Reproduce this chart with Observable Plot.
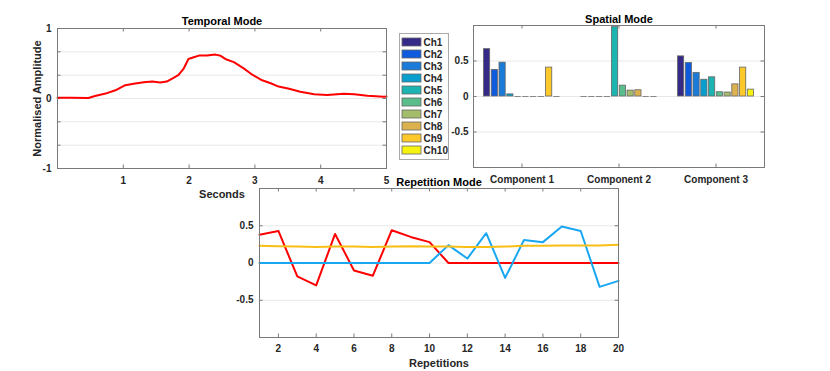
<!DOCTYPE html>
<html><head><meta charset="utf-8">
<script src="https://cdn.jsdelivr.net/npm/d3@7"></script>
<script src="https://cdn.jsdelivr.net/npm/@observablehq/plot@0.6"></script>
<style>
body{margin:0;background:#fff;}
#wrap{position:relative;width:830px;height:371px;overflow:hidden;background:#fff;}
#wrap > svg{position:absolute;margin:0;overflow:visible;}
</style></head><body><div id="wrap"></div>
<script>
// ---- Temporal mode ----
const temporalT = [0, 0.2, 0.47, 0.57, 0.73, 0.88, 1.03, 1.18, 1.31, 1.44, 1.56, 1.66, 1.77, 1.84, 1.92, 1.99, 2.07, 2.15, 2.27, 2.40, 2.48, 2.55, 2.68, 2.83, 2.96, 3.11, 3.24, 3.36, 3.52, 3.69, 3.90, 4.10, 4.35, 4.51, 4.71, 4.96, 5.0];
const temporalV = [0.011, 0.009, 0.007, 0.036, 0.07, 0.117, 0.19, 0.214, 0.233, 0.242, 0.228, 0.242, 0.299, 0.337, 0.432, 0.565, 0.589, 0.613, 0.613, 0.627, 0.61, 0.565, 0.52, 0.43, 0.34, 0.26, 0.218, 0.17, 0.14, 0.097, 0.06, 0.05, 0.068, 0.06, 0.04, 0.026, 0.03];
const temporalXTicks = [1, 2, 3, 4, 5];
const temporalYLabels = [-1, 0, 1];
const temporalYGrid = [-0.667, -0.333, 0, 0.333, 0.667];

// ---- Spatial mode ----
const channels = ["Ch1","Ch2","Ch3","Ch4","Ch5","Ch6","Ch7","Ch8","Ch9","Ch10"];
const channelColors = ["#352a87","#0f5bdd","#1a7bd8","#089fcf","#1cb4b0","#5bbd8c","#a4bd6a","#dcb24f","#fdc82a","#f5f30f"];
const components = ["Component 1","Component 2","Component 3"];
const spatialComp1 = [0.667, 0.375, 0.477, 0.03, 0, 0, 0, 0, 0.407, 0];
const spatialComp2 = [0, 0, 0, 0, 0.977, 0.153, 0.083, 0.088, 0, 0];
const spatialComp3 = [0.565, 0.472, 0.333, 0.236, 0.27, 0.06, 0.056, 0.171, 0.407, 0.097];
const spatialYTicks = [-0.5, 0, 0.5];

// ---- Repetition mode ----
const repetitions = [1,2,3,4,5,6,7,8,9,10,11,12,13,14,15,16,17,18,19,20];
const repSeries = ["comp1", "comp2", "comp3"];
const repColors = ["#ff0000", "#19a7f2", "#f7bf16"];
const repRed = [0.38, 0.43, -0.18, -0.30, 0.39, -0.10, -0.17, 0.44, 0.35, 0.28, 0, 0, 0, 0, 0, 0, 0, 0, 0, 0];
const repBlue = [0, 0, 0, 0, 0, 0, 0, 0, 0, 0, 0.24, 0.06, 0.40, -0.20, 0.31, 0.28, 0.49, 0.43, -0.32, -0.24];
const repYellow = [0.23, 0.225, 0.22, 0.215, 0.22, 0.22, 0.215, 0.22, 0.225, 0.22, 0.22, 0.215, 0.215, 0.22, 0.23, 0.23, 0.235, 0.235, 0.235, 0.245];
const repXTicks = [2,4,6,8,10,12,14,16,18,20];
const repYTicks = [-0.5, 0, 0.5];

const FONT = '"Liberation Sans", Arial, Helvetica, sans-serif';
const AXIS = "#7a7a7a";
const GRID = "#e8e8e8";
const TXT = "#262626";
const TL = 3.5;
const fmt = d => String(d);
const baseStyle = {fontFamily: FONT, fontSize: "10px", fontWeight: "bold", color: TXT, background: "transparent", overflow: "visible"};

function inwardTicks(xt, yt, xd, yd) {
  return [
    Plot.ruleX(xt, {x: d => d, y1: () => yd[0], y2: () => yd[0], insetBottom: TL, stroke: AXIS}),
    Plot.ruleX(xt, {x: d => d, y1: () => yd[1], y2: () => yd[1], insetTop: TL, stroke: AXIS}),
    Plot.ruleY(yt, {y: d => d, x1: () => xd[0], x2: () => xd[0], insetLeft: TL, stroke: AXIS}),
    Plot.ruleY(yt, {y: d => d, x1: () => xd[1], x2: () => xd[1], insetRight: TL, stroke: AXIS})
  ];
}
function place(svg, left, top) {
  svg.style.left = left + "px";
  svg.style.top = top + "px";
  document.getElementById("wrap").appendChild(svg);
}

// Temporal
const tData = temporalT.map((t, i) => ({t, v: temporalV[i]}));
const p1 = Plot.plot({
  width: 400, height: 210,
  marginLeft: 57, marginRight: 14, marginTop: 28, marginBottom: 42,
  style: baseStyle,
  x: {domain: [0, 5]},
  y: {domain: [-1, 1]},
  marks: [
    Plot.ruleY(temporalYGrid, {y: d => d, stroke: GRID}),
    Plot.axisX(temporalXTicks, {tickSize: 0, tickPadding: 8, label: null, tickFormat: fmt, fill: TXT}),
    Plot.axisY(temporalYLabels, {tickSize: 0, tickPadding: 6, label: null, tickFormat: fmt, fill: TXT}),
    ...inwardTicks(temporalXTicks, temporalYGrid.concat([-1, 1]), [0, 5], [-1, 1]),
    Plot.line(tData, {x: "t", y: "v", stroke: "#ff0000", strokeWidth: 2}),
    Plot.frame({stroke: AXIS}),
    Plot.text(["Temporal Mode"], {text: d => d, frameAnchor: "top", dy: -11, fontSize: 11, fontWeight: "bold", fill: "#000"}),
    Plot.text(["Seconds"], {text: d => d, frameAnchor: "bottom", dy: 29, fontSize: 11, fontWeight: "bold", fill: TXT}),
    Plot.text(["Normalised Amplitude"], {text: d => d, frameAnchor: "left", textAnchor: "middle", dx: -20, rotate: -90, fontSize: 11, fontWeight: "bold", fill: TXT})
  ]
});
place(p1, 0, 0);

// Spatial
const spatialSeries = [spatialComp1, spatialComp2, spatialComp3];
const spatialData = [];
spatialSeries.forEach((vals, ci) => vals.forEach((v, j) => spatialData.push({comp: ci + 1, j, ch: channels[j], value: v, color: channelColors[j]})));
const GROUP_STEP = 0.08, BAR_HALF = 0.032;
const bx1 = d => d.comp + (d.j - 4.5) * GROUP_STEP - BAR_HALF;
const bx2 = d => d.comp + (d.j - 4.5) * GROUP_STEP + BAR_HALF;
const p2 = Plot.plot({
  width: 440, height: 200,
  marginLeft: 83, marginRight: 66, marginTop: 25, marginBottom: 33,
  style: baseStyle,
  x: {domain: [0.5, 3.5]},
  y: {domain: [-1, 1]},
  marks: [
    Plot.ruleY(spatialYTicks, {y: d => d, stroke: GRID}),
    Plot.axisX([1, 2, 3], {tickSize: 0, tickPadding: 8, label: null, tickFormat: d => components[d - 1], fill: TXT}),
    Plot.axisY(spatialYTicks, {tickSize: 0, tickPadding: 5, label: null, tickFormat: fmt, fill: TXT}),
    ...inwardTicks([1, 2, 3], spatialYTicks, [0.5, 3.5], [-1, 1]),
    Plot.rectY(spatialData.filter(d => d.value !== 0), {x1: bx1, x2: bx2, y1: () => 0, y2: "value", fill: d => d.color, stroke: "#666", strokeWidth: 0.8}),
    Plot.ruleY(spatialData.filter(d => d.value === 0), {y: () => 0, x1: bx1, x2: bx2, stroke: "#888"}),
    Plot.frame({stroke: AXIS}),
    Plot.text(["Spatial Mode"], {text: d => d, frameAnchor: "top", dy: -10, fontSize: 11, fontWeight: "bold", fill: "#000"})
  ]
});
place(p2, 390, 0);

// Legend
const legend = Plot.plot({
  width: 49, height: 126, margin: 0,
  style: baseStyle,
  x: {domain: [0, 49], axis: null},
  y: {domain: channels, axis: null, paddingInner: 0.3, paddingOuter: 0.19},
  color: {domain: channels, range: channelColors},
  marks: [
    Plot.barX(channels, {y: d => d, x1: () => 3, x2: () => 22, fill: d => d, stroke: "#666", strokeWidth: 0.8}),
    Plot.text(channels, {y: d => d, x: () => 24, text: d => d, textAnchor: "start", fontSize: 10, fontWeight: "bold", fill: TXT}),
    Plot.frame({stroke: "#aaa"})
  ]
});
place(legend, 399, 33);

// Repetition
const repData = [];
[repRed, repBlue, repYellow].forEach((vals, k) =>
  vals.forEach((v, i) => repData.push({series: repSeries[k], rep: repetitions[i], value: v})));
const p3 = Plot.plot({
  width: 440, height: 201,
  marginLeft: 59, marginRight: 22, marginTop: 18, marginBottom: 34,
  style: baseStyle,
  x: {domain: [1, 20]},
  y: {domain: [-1, 1]},
  color: {domain: repSeries, range: repColors},
  marks: [
    Plot.ruleY(repYTicks, {y: d => d, stroke: GRID}),
    Plot.axisX(repXTicks, {tickSize: 0, tickPadding: 7, label: null, tickFormat: fmt, fill: TXT}),
    Plot.axisY(repYTicks, {tickSize: 0, tickPadding: 6, label: null, tickFormat: fmt, fill: TXT}),
    ...inwardTicks(repXTicks, repYTicks, [1, 20], [-1, 1]),
    Plot.line(repData, {x: "rep", y: "value", z: "series", stroke: "series", strokeWidth: 2}),
    Plot.frame({stroke: AXIS}),
    Plot.text(["Repetition Mode"], {text: d => d, frameAnchor: "top", dy: -10, fontSize: 11, fontWeight: "bold", fill: "#000"}),
    Plot.text(["Repetitions"], {text: d => d, frameAnchor: "bottom", dy: 29, fontSize: 11, fontWeight: "bold", fill: TXT})
  ]
});
place(p3, 200, 170);
</script>
</body></html>
